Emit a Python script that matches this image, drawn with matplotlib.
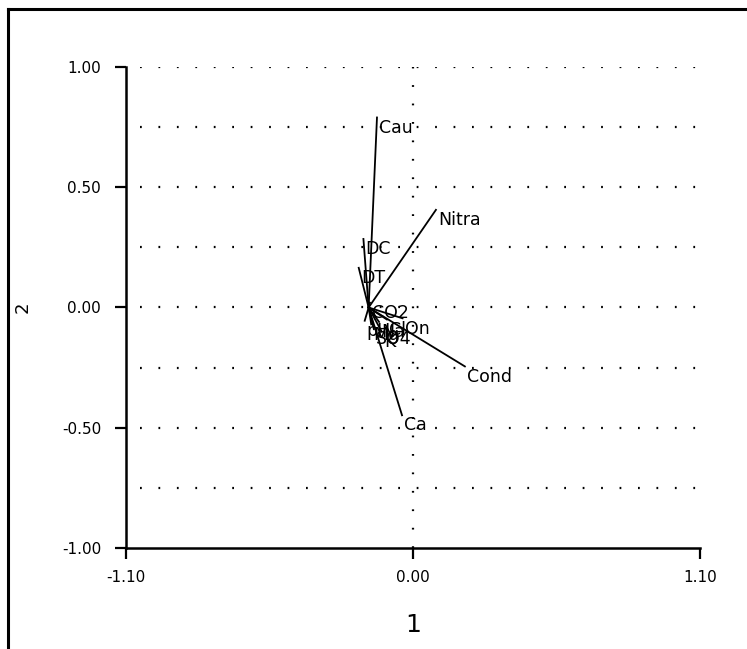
import matplotlib.pyplot as plt
from matplotlib.lines import Line2D

# biplot vectors (axis 1, axis 2), all drawn from a common origin
origin = (-0.17, 0.0)
names = ["Cau", "Nitra", "DC", "DT", "CO2", "On", "Cond", "Ca",
         "pH", "Mg", "Na", "K", "SO4", "Cl"]
ax1 = [-0.138, 0.088, -0.190, -0.208, -0.165, -0.040, 0.199, -0.042,
       -0.185, -0.160, -0.130, -0.120, -0.150, -0.100]
ax2 = [0.790, 0.406, 0.285, 0.165, 0.020, -0.045, -0.245, -0.448,
       -0.055, -0.070, -0.060, -0.100, -0.090, -0.050]

yticks = [-1.0, -0.5, 0.0, 0.5, 1.0]
ygrid = [-0.75, -0.5, -0.25, 0.0, 0.25, 0.5, 0.75, 1.0]
xticks = [-1.1, 0.0, 1.1]

plt.rcParams['font.family'] = ['DejaVu Sans']

fig = plt.figure(figsize=(7.47, 6.49), dpi=100)
ax = fig.add_axes([0.1687, 0.1556, 0.7683, 0.7412])

for y in ygrid:
    ax.axhline(y, color="black", lw=1.6, ls=(2, (0.8, 7.5)), zorder=1)
ax.axvline(0, color="black", lw=1.6, ls=(0, (0.8, 7.5)), zorder=1)

for name, x, y in zip(names, ax1, ax2):
    ax.plot([origin[0], x], [origin[1], y], color="black", lw=1.3, zorder=2)
    ax.text(x + 0.008, y - 0.005, name, fontsize=12.5, va="top", ha="left", zorder=3)

ax.set_xlim(-1.1, 1.1)
ax.set_ylim(-1.0, 1.0)
ax.set_xticks(xticks)
ax.set_xticklabels(["%.2f" % v for v in xticks])
ax.set_yticks(yticks)
ax.set_yticklabels(["%.2f" % v for v in yticks])
ax.tick_params(direction="out", length=8, width=1.6, labelsize=11, pad=10)
ax.tick_params(axis="x", pad=8)

for s in ["top", "right"]:
    ax.spines[s].set_visible(False)
for s in ["left", "bottom"]:
    ax.spines[s].set_linewidth(1.8)

ax.set_xlabel("1", fontsize=18, labelpad=20)
ax.set_ylabel("2", fontsize=13, labelpad=22)

# outer frame
fig.add_artist(Line2D([8 / 747, 8 / 747], [0, 1 - 9 / 649], color="black", lw=2.2))
fig.add_artist(Line2D([8 / 747, 1], [1 - 9 / 649, 1 - 9 / 649], color="black", lw=2.2))

fig.savefig("out.png", dpi=100)
